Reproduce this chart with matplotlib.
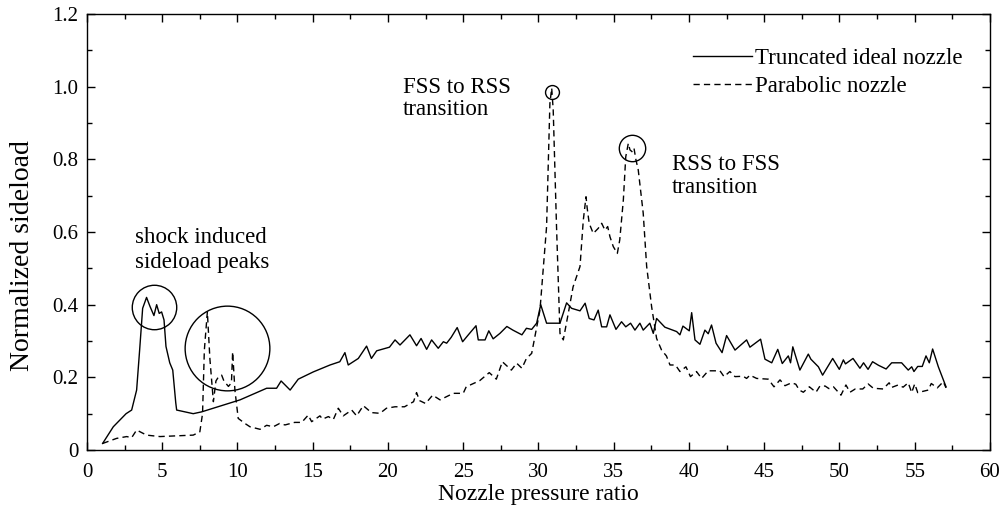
import matplotlib
matplotlib.use("Agg")
import matplotlib.pyplot as plt

# Truncated ideal nozzle (solid)
npr_ideal = [1.04, 1.75, 2.6, 2.97, 3.3, 3.5, 3.7, 3.96, 4.19, 4.45, 4.63, 4.8, 4.96, 5.12, 5.25,
             5.5, 5.7, 5.9, 5.96, 7.06, 7.62, 10.17, 11.94, 12.6, 12.9, 13.5, 14.04, 15.04, 16.15,
             16.8, 17.14, 17.36, 18.03, 18.58, 18.9, 19.25, 20.1, 20.47, 20.8, 21.46, 21.9, 22.2,
             22.57, 22.9, 23.34, 23.68, 23.9, 24.2, 24.6, 24.96, 25.34, 25.85, 26.0, 26.45, 26.7,
             26.99, 27.44, 27.9, 28.3, 28.9, 29.2, 29.55, 29.88, 30.15, 30.54, 31.43, 31.87, 32.2,
             32.76, 33.1, 33.37, 33.69, 33.97, 34.2, 34.53, 34.75, 35.15, 35.52, 35.8, 36.12, 36.41,
             36.74, 36.96, 37.4, 37.63, 37.85, 38.4, 39.18, 39.4, 39.6, 40.02, 40.18, 40.4, 40.73,
             41.06, 41.28, 41.5, 41.8, 42.2, 42.5, 43.06, 43.83, 44.05, 44.76, 45.05, 45.5, 45.9,
             46.2, 46.6, 46.75, 46.9, 47.37, 47.93, 48.1, 48.6, 48.88, 49.55, 49.99, 50.26, 50.4,
             50.9, 51.36, 51.6, 51.9, 52.2, 52.6, 53.1, 53.47, 54.13, 54.57, 54.8, 54.95, 55.2,
             55.5, 55.75, 55.97, 56.19, 56.57, 57.08]
load_ideal = [0.018, 0.064, 0.10, 0.11, 0.165, 0.275, 0.39, 0.42, 0.395, 0.37, 0.40, 0.376, 0.38,
              0.358, 0.285, 0.24, 0.22, 0.13, 0.11, 0.10, 0.105, 0.138, 0.17, 0.17, 0.19, 0.165,
              0.195, 0.215, 0.234, 0.243, 0.268, 0.234, 0.252, 0.286, 0.252, 0.273, 0.283, 0.303,
              0.289, 0.317, 0.287, 0.307, 0.277, 0.303, 0.28, 0.298, 0.294, 0.31, 0.337, 0.298,
              0.317, 0.342, 0.303, 0.303, 0.328, 0.306, 0.321, 0.34, 0.33, 0.317, 0.335, 0.332,
              0.349, 0.40, 0.349, 0.349, 0.405, 0.39, 0.383, 0.404, 0.362, 0.358, 0.385, 0.339,
              0.339, 0.372, 0.332, 0.353, 0.339, 0.349, 0.33, 0.349, 0.33, 0.349, 0.321, 0.362,
              0.338, 0.326, 0.317, 0.341, 0.328, 0.378, 0.303, 0.291, 0.33, 0.32, 0.344, 0.294,
              0.268, 0.315, 0.275, 0.303, 0.283, 0.305, 0.25, 0.24, 0.277, 0.238, 0.259, 0.24,
              0.284, 0.22, 0.264, 0.25, 0.229, 0.206, 0.252, 0.222, 0.248, 0.237, 0.252, 0.225,
              0.24, 0.222, 0.243, 0.233, 0.223, 0.24, 0.24, 0.22, 0.229, 0.216, 0.23, 0.23, 0.259,
              0.24, 0.278, 0.229, 0.174]

# Parabolic nozzle (dashed)
npr_parab = [1.04, 1.97, 2.64, 2.97, 3.3, 3.96, 4.85, 7.06, 7.5, 7.68, 7.8, 8.0, 8.17, 8.4, 8.57,
             8.72, 8.95, 9.1, 9.4, 9.6, 9.68, 9.83, 10.05, 10.5, 10.83, 11.5, 11.94, 12.38, 12.8,
             13.16, 13.8, 14.27, 14.7, 14.93, 15.48, 15.66, 16.04, 16.37, 16.7, 17.03, 17.59,
             17.92, 18.36, 18.9, 19.47, 19.9, 20.47, 21.1, 21.7, 21.9, 22.1, 22.5, 22.97, 23.46,
             24.34, 25.0, 25.2, 26.1, 26.73, 27.2, 27.6, 28.2, 28.55, 28.9, 29.2, 29.55, 30.1,
             30.54, 30.76, 30.88, 30.98, 31.2, 31.43, 31.65, 31.98, 32.3, 32.76, 32.98, 33.16,
             33.24, 33.37, 33.64, 33.97, 34.2, 34.42, 34.6, 34.75, 34.97, 35.24, 35.4, 35.64, 35.8,
             35.97, 36.08, 36.25, 36.35, 36.48, 36.63, 36.96, 37.19, 37.52, 37.85, 38.18, 38.5,
             38.74, 39.1, 39.4, 39.8, 40.1, 40.5, 40.84, 41.28, 42.06, 42.33, 42.72, 43.06, 43.6,
             43.83, 44.05, 44.5, 45.27, 45.65, 46.05, 46.38, 46.82, 47.1, 47.33, 47.6, 48.0, 48.44,
             48.7, 49.05, 49.3, 49.6, 50.1, 50.43, 50.7, 51.05, 51.55, 51.9, 52.25, 52.9, 53.3,
             53.45, 53.9, 54.23, 54.57, 54.8, 55.0, 55.2, 55.9, 56.1, 56.5, 56.9, 57.08]
load_parab = [0.018, 0.032, 0.037, 0.034, 0.055, 0.041, 0.037, 0.041, 0.05, 0.10, 0.275, 0.38,
              0.25, 0.133, 0.19, 0.20, 0.206, 0.19, 0.175, 0.185, 0.27, 0.165, 0.087, 0.073, 0.064,
              0.057, 0.068, 0.064, 0.073, 0.069, 0.076, 0.076, 0.096, 0.078, 0.094, 0.085, 0.092,
              0.084, 0.115, 0.094, 0.11, 0.094, 0.122, 0.103, 0.101, 0.115, 0.119, 0.119, 0.133,
              0.158, 0.136, 0.128, 0.151, 0.138, 0.156, 0.156, 0.174, 0.191, 0.213, 0.195, 0.243,
              0.22, 0.239, 0.225, 0.252, 0.266, 0.385, 0.615, 0.954, 0.996, 0.936, 0.615, 0.321,
              0.303, 0.376, 0.449, 0.505, 0.633, 0.697, 0.665, 0.624, 0.596, 0.61, 0.624, 0.605,
              0.615, 0.587, 0.56, 0.541, 0.578, 0.688, 0.807, 0.844, 0.826, 0.82, 0.83, 0.798,
              0.771, 0.652, 0.505, 0.394, 0.307, 0.275, 0.259, 0.234, 0.234, 0.216, 0.229, 0.202,
              0.216, 0.197, 0.218, 0.218, 0.202, 0.216, 0.202, 0.203, 0.197, 0.206, 0.197, 0.195,
              0.174, 0.193, 0.177, 0.185, 0.181, 0.165, 0.159, 0.174, 0.159, 0.176, 0.176, 0.169,
              0.174, 0.151, 0.179, 0.159, 0.168, 0.168, 0.182, 0.17, 0.168, 0.185, 0.172, 0.179,
              0.173, 0.185, 0.158, 0.182, 0.158, 0.165, 0.183, 0.171, 0.188, 0.171]

# highlighted regions: (npr, sideload, circle size in points)
circle_x = [4.46, 9.28, 30.88, 36.19]
circle_y = [0.394, 0.28, 0.986, 0.83]
circle_ms = [32, 61, 10, 19]

plt.rcParams["font.family"] = ["Liberation Serif", "DejaVu Serif"]
plt.rcParams["font.size"] = 16.5

fig = plt.figure(figsize=(10.03, 5.07), dpi=100)
ax = fig.add_axes([0.0867, 0.1124, 0.9003, 0.86])

ax.plot(npr_ideal, load_ideal, color="black", lw=1.0, label="Truncated ideal nozzle")
ax.plot(npr_parab, load_parab, color="black", lw=1.0, dashes=(4.5, 3),
        label="Parabolic nozzle")

for cx, cy, ms in zip(circle_x, circle_y, circle_ms):
    ax.plot(cx, cy, "o", ms=ms, mfc="none", mec="black", mew=1.0)

ax.text(3.19, 0.569, "shock induced", ha="left", va="baseline")
ax.text(3.19, 0.50, "sideload peaks", ha="left", va="baseline")
ax.text(20.98, 0.983, "FSS to RSS", ha="left", va="baseline")
ax.text(20.98, 0.922, "transition", ha="left", va="baseline")
ax.text(38.85, 0.771, "RSS to FSS", ha="left", va="baseline")
ax.text(38.85, 0.707, "transition", ha="left", va="baseline")

ax.set_xlim(0, 60)
ax.set_ylim(0, 1.2)
ax.set_xticks(range(0, 61, 5))
ax.set_xticks([x + 2.5 for x in range(0, 60, 5)], minor=True)
ax.set_yticks([0, 0.2, 0.4, 0.6, 0.8, 1.0, 1.2])
ax.set_yticklabels(["0", "0.2", "0.4", "0.6", "0.8", "1.0", "1.2"])
ax.set_yticks([0.1, 0.3, 0.5, 0.7, 0.9, 1.1], minor=True)
ax.tick_params(which="both", direction="in", top=True, right=True, width=1.0,
               labelsize=15)
ax.tick_params(which="major", length=6)
ax.tick_params(which="minor", length=3.5)
ax.tick_params(axis="x", which="major", pad=9)
ax.tick_params(axis="y", which="major", pad=6)
for s in ax.spines.values():
    s.set_linewidth(1.0)

ax.set_xlabel("Nozzle pressure ratio", fontsize=17, labelpad=2)
ax.set_ylabel("Normalized sideload", fontsize=20)
ax.yaxis.set_label_coords(-0.058, 0.447)

ax.legend(loc="upper left", bbox_to_anchor=(0.671, 0.923), frameon=False, borderpad=0,
          borderaxespad=0, handlelength=2.58, handletextpad=0.13, labelspacing=0.31)

fig.savefig("out.png", dpi=100)
